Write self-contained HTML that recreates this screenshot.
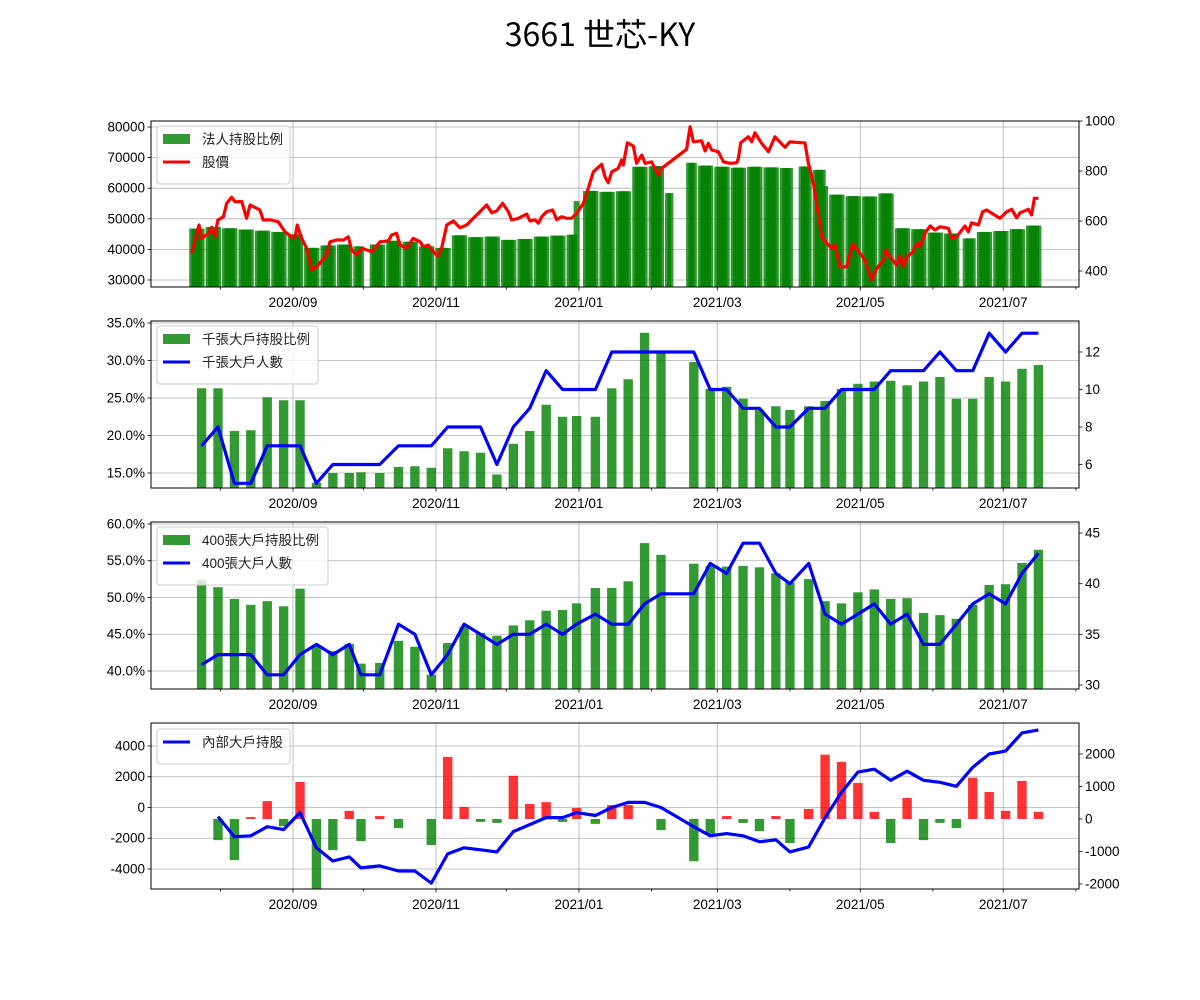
<!DOCTYPE html>
<html><head><meta charset="utf-8"><style>
html,body{margin:0;padding:0;background:#fff;}
svg{display:block;font-family:"Liberation Sans","Noto Sans CJK TC",sans-serif;}
</style></head><body>
<svg id="chart" width="1200" height="1000" viewBox="0 0 1200 1000" xmlns="http://www.w3.org/2000/svg">
<text x="600" y="46" text-anchor="middle" font-size="32" font-family="Noto Sans CJK TC, sans-serif" fill="#000">3661 世芯-KY</text>
</svg>
<script>
// ---------- DATA ----------
const weekDates = ["2020-07-24","2020-07-31","2020-08-07","2020-08-14","2020-08-21","2020-08-28","2020-09-04","2020-09-11","2020-09-18","2020-09-25","2020-09-30","2020-10-08","2020-10-16","2020-10-23","2020-10-30","2020-11-06","2020-11-13","2020-11-20","2020-11-27","2020-12-04","2020-12-11","2020-12-18","2020-12-25","2020-12-31","2021-01-08","2021-01-15","2021-01-22","2021-01-29","2021-02-05","2021-02-19","2021-02-26","2021-03-05","2021-03-12","2021-03-19","2021-03-26","2021-04-01","2021-04-09","2021-04-16","2021-04-23","2021-04-30","2021-05-07","2021-05-14","2021-05-21","2021-05-28","2021-06-04","2021-06-11","2021-06-18","2021-06-25","2021-07-02","2021-07-09","2021-07-16"];
const bigRatio = [26.3,26.3,20.6,20.7,25.1,24.7,24.7,13.7,15.0,15.0,15.1,15.0,15.8,15.9,15.7,18.3,17.9,17.7,14.8,18.9,20.6,24.1,22.5,22.6,22.5,26.3,27.5,33.7,31.2,29.8,26.2,26.5,24.9,23.4,23.9,23.4,23.9,24.6,26.2,26.9,27.2,27.3,26.7,27.2,27.8,24.9,24.9,27.8,27.2,28.9,29.4];
const bigCount = [7,8,5,5,7,7,7,5,6,6,6,6,7,7,7,8,8,8,6,8,9,11,10,10,10,12,12,12,12,12,10,10,9,9,8,8,9,9,10,10,10,11,11,11,12,11,11,13,12,13,13];
const midRatio = [52.4,51.4,49.8,49.0,49.5,48.8,51.2,43.5,42.7,43.7,41.0,41.1,44.1,43.3,39.5,43.8,46.0,45.2,44.8,46.2,46.9,48.2,48.3,49.2,51.3,51.3,52.2,57.4,55.8,54.6,54.3,54.2,54.3,54.1,53.3,52.0,52.5,49.5,49.2,50.7,51.1,49.8,49.9,47.9,47.6,47.1,49.0,51.7,51.8,54.7,56.5];
const midCount = [32,33,33,33,31,31,33,34,33,34,31,31,36,35,31,33,36,35,34,35,35,36,35,36,37,36,36,38,39,39,42,41,44,44,41,40,42,37,36,37,38,36,37,34,34,36,38,39,38,41,43];
const insiderDiff = [0,-650,-1265,60,550,-220,1140,-2300,-960,250,-680,90,-280,0,-800,1910,370,-90,-120,1330,460,520,-90,340,-150,430,430,0,-340,-1300,-500,90,-120,-370,90,-740,310,1980,1760,1110,220,-740,650,-650,-120,-280,1270,830,250,1170,220];
const insiderHold = [null,-590,-1900,-1840,-1250,-1440,-330,-2620,-3480,-3210,-3930,-3800,-4130,-4130,-4920,-3020,-2620,-2750,-2890,-1570,-1110,-660,-660,-330,-520,0,330,330,0,-1250,-1840,-1700,-1840,-2230,-2100,-2890,-2560,-660,980,2300,2490,1770,2360,1770,1640,1380,2620,3480,3670,4850,5050];
// institutional holding segments (daily bars)
const instStart = ["2020-07-20","2020-07-27","2020-08-03","2020-08-10","2020-08-17","2020-08-24","2020-08-31","2020-09-07","2020-09-14","2020-09-21","2020-09-28","2020-10-05","2020-10-12","2020-10-19","2020-10-26","2020-11-02","2020-11-09","2020-11-16","2020-11-23","2020-11-30","2020-12-07","2020-12-14","2020-12-21","2020-12-28","2020-12-31","2021-01-04","2021-01-11","2021-01-18","2021-01-25","2021-02-01","2021-02-08","2021-02-17","2021-02-22","2021-03-01","2021-03-08","2021-03-15","2021-03-22","2021-03-29","2021-04-06","2021-04-12","2021-04-16","2021-04-19","2021-04-26","2021-05-03","2021-05-10","2021-05-17","2021-05-24","2021-05-31","2021-06-07","2021-06-15","2021-06-21","2021-06-28","2021-07-05","2021-07-12"];
const instEnd = ["2020-07-24","2020-07-31","2020-08-07","2020-08-14","2020-08-21","2020-08-28","2020-09-04","2020-09-11","2020-09-18","2020-09-25","2020-09-30","2020-10-09","2020-10-16","2020-10-23","2020-10-30","2020-11-06","2020-11-13","2020-11-20","2020-11-27","2020-12-04","2020-12-11","2020-12-18","2020-12-25","2020-12-30","2020-12-31","2021-01-08","2021-01-15","2021-01-22","2021-01-29","2021-02-05","2021-02-09","2021-02-19","2021-02-26","2021-03-05","2021-03-12","2021-03-19","2021-03-26","2021-04-01","2021-04-09","2021-04-15","2021-04-16","2021-04-23","2021-04-30","2021-05-07","2021-05-14","2021-05-21","2021-05-28","2021-06-04","2021-06-11","2021-06-18","2021-06-25","2021-07-02","2021-07-09","2021-07-16"];
const instHold = [46800,47300,46900,46500,46100,45700,44900,40500,41300,41600,41000,41600,42800,42500,41000,40500,44600,44000,44200,43100,43400,44200,44500,44800,55800,59100,58800,59000,67000,67200,58400,68300,67400,67000,66700,67000,66800,66600,67100,66000,60700,57900,57400,57300,58300,46900,46600,45500,45200,43600,45700,46000,46600,47800];
const holidays = ["2020-10-01","2020-10-02","2021-01-01","2021-02-10","2021-02-11","2021-02-12","2021-02-15","2021-02-16","2021-04-02","2021-04-05","2021-06-14"];
// stock price: days since 2020-09-01 and price
const priceDay = [-43.2,-40.1,-39.0,-36.1,-34.7,-33.3,-32.1,-29.7,-28.3,-26.2,-24.7,-21.9,-19.8,-18.3,-14.1,-12.7,-9.8,-6.3,-3.4,-0.6,0.9,1.8,3.7,5.8,8.0,10.1,14.4,15.8,18.6,21.5,23.6,25.0,27.2,29.3,33.6,37.1,40.7,42.1,44.2,45.6,48.5,51.3,54.2,55.6,57.7,59.9,61.6,63.4,65.6,68.4,71.2,74.1,76.9,79.1,82.6,84.8,86.9,89.4,91.9,93.3,96.1,99.7,101.1,103.2,104.7,106.1,108.2,110.8,112.5,114.6,116.8,118.9,121.0,123.9,126.0,128.1,131.7,133.1,134.5,136.0,138.8,140.2,140.9,142.6,145.2,146.6,148.8,150.2,153.0,155.9,157.3,167.9,169.4,170.8,174.3,175.8,177.2,178.6,181.5,183.6,186.4,189.3,190.0,191.0,194.3,195.7,197.1,199.9,202.8,205.6,209.9,212.0,217.0,218.4,219.9,222.0,223.4,225.5,227.7,229.8,231.2,233.4,236.2,238.8,241.9,244.0,246.9,249.0,252.1,253.0,254.7,257.5,259.0,260.4,261.8,264.6,266.1,267.5,269.6,271.8,273.9,276.0,279.6,281.0,283.1,286.7,288.1,289.5,292.4,294.2,295.9,298.8,301.6,304.5,306.6,308.7,310.2,313.7,315.1,316.3,318.0];
const price = [471,584,531,551,575,537,604,617,671,695,677,678,611,664,644,604,605,597,557,537,535,584,531,491,404,417,464,517,524,524,537,484,464,491,477,517,521,544,551,504,491,531,517,497,504,477,461,491,584,600,573,584,611,631,664,633,640,671,637,604,611,628,600,605,591,617,637,644,605,617,611,611,631,671,731,797,827,777,753,797,811,844,824,913,900,831,864,831,837,784,811,887,977,917,921,880,911,884,877,837,831,833,851,913,937,917,953,911,877,937,895,917,913,913,831,751,671,537,511,491,504,417,417,508,471,444,364,411,444,484,457,424,460,417,457,477,511,497,551,580,564,577,571,531,537,580,557,593,584,637,644,627,611,637,647,613,633,647,624,691,691];
const xTickLabels = ["2020/09","2020/11","2021/01","2021/03","2021/05","2021/07"];
const xTickDates = ["2020-09-01","2020-11-01","2021-01-01","2021-03-01","2021-05-01","2021-07-01"];
const xMinorDates = ["2020-08-01","2020-10-01","2020-12-01","2021-02-01","2021-04-01","2021-06-01","2021-08-01"];

// ---------- SCALES ----------
const NS = "http://www.w3.org/2000/svg";
const svg = document.getElementById('chart');
const X0 = 293, PXD = 2.344, XL = 151, XR = 1079;
function dayOf(s){const p=s.split('-').map(Number);return (Date.UTC(p[0],p[1]-1,p[2])-Date.UTC(2020,8,1))/864e5;}
function xs(d){return X0 + d*PXD;}
function mk(tag, attrs, parent){const e=document.createElementNS(NS,tag);for(const k in attrs)e.setAttribute(k,attrs[k]);(parent||svg).appendChild(e);return e;}
const panels = [
 {top:121,bot:287,l:[27712,81961],r:[336,1000]},
 {top:321,bot:488,l:[13.0,35.27],r:[4.747,13.653]},
 {top:522,bot:689,l:[37.55,60.27],r:[29.6,46.09]},
 {top:723,bot:889,l:[-5301,5496],r:[-2154,2954]}
];
function yL(P,v){return P.bot-(v-P.l[0])/(P.l[1]-P.l[0])*(P.bot-P.top);}
function yR(P,v){return P.bot-(v-P.r[0])/(P.r[1]-P.r[0])*(P.bot-P.top);}
const FONT = 'Liberation Sans, Noto Sans CJK TC, sans-serif';

const defs = mk('defs',{});
panels.forEach((P,i)=>{
  const cp = mk('clipPath',{id:'clip'+i},defs);
  mk('rect',{x:XL,y:P.top,width:XR-XL,height:P.bot-P.top},cp);
});

function gridAndAxes(P, i, lTicks, lFmt, rTicks, rFmt, gridLayer, axisLayer){
  xTickDates.forEach(s=>{
    const x = xs(dayOf(s));
    const gl = mk('line',{x1:x,x2:x,y1:P.top,y2:P.bot,stroke:'#b0b0b0','stroke-width':0.8},gridLayer);
    
    
  });
  lTicks.forEach(v=>{
    const y = yL(P,v);
    const gl = mk('line',{x1:XL,x2:XR,y1:y,y2:y,stroke:'#b0b0b0','stroke-width':0.8},gridLayer);
    
    
    const tk = mk('line',{x1:XL-3.5,x2:XL,y1:y,y2:y,stroke:'#000','stroke-width':0.8},axisLayer);
    
    
    const t = mk('text',{x:XL-6,y:y+4.5,'text-anchor':'end','font-size':13.5,'font-family':FONT,fill:'#000'},axisLayer);
    t.textContent = lFmt(v);
    
    
  });
  rTicks.forEach(v=>{
    const y = yR(P,v);
    const tk = mk('line',{x1:XR,x2:XR+3.5,y1:y,y2:y,stroke:'#000','stroke-width':0.8},axisLayer);
    
    
    const t = mk('text',{x:XR+6,y:y+4.5,'text-anchor':'start','font-size':13.5,'font-family':FONT,fill:'#000'},axisLayer);
    t.textContent = rFmt(v);
    
    
  });
  xTickDates.forEach((s,k)=>{
    const x = xs(dayOf(s));
    const tk = mk('line',{x1:x,x2:x,y1:P.bot,y2:P.bot+3.5,stroke:'#000','stroke-width':0.8},axisLayer);
    
    
    const t = mk('text',{x:x,y:P.bot+20,'text-anchor':'middle','font-size':13.5,'font-family':FONT,fill:'#000'},axisLayer);
    t.textContent = xTickLabels[k];
    
    
  });
  xMinorDates.forEach(s=>{
    const x = xs(dayOf(s));
    const tk = mk('line',{x1:x,x2:x,y1:P.bot,y2:P.bot+2.5,stroke:'#000','stroke-width':0.8},axisLayer);
    
    
  });
  const fr = mk('rect',{x:XL,y:P.top,width:XR-XL,height:P.bot-P.top,fill:'none',stroke:'#000','stroke-width':1},axisLayer);
  
  
}

function legend(x,y,w,items){
  const g = mk('g',{});
  
  
  const h = 12 + items.length*23;
  mk('rect',{x:x,y:y,width:w,height:h,rx:3,fill:'#fff','fill-opacity':0.8,stroke:'#cccccc','stroke-width':1},g);
  items.forEach((it,k)=>{
    const cy = y+13+k*23;
    if(it.type==='bar'){
      const p = mk('rect',{x:x+6,y:cy-5,width:27,height:10,fill:it.color},g);
      
      
    } else {
      const p = mk('line',{x1:x+6,x2:x+33,y1:cy,y2:cy,stroke:it.color,'stroke-width':3},g);
      
      
    }
    const t = mk('text',{x:x+45,y:cy+5,'font-size':13.5,'font-family':'Liberation Sans, Noto Sans CJK TC, sans-serif',fill:'#222'},g);
    t.textContent = it.label;
    
    
  });
}

const GREEN = 'rgba(0,128,0,0.8)', RED = 'rgba(255,0,0,0.8)';
const BW = 4*PXD;

// ---------- PANEL 1 ----------
(function(){
  const P = panels[0];
  const gridL = mk('g',{});  
  const barsL = mk('g',{'clip-path':'url(#clip0)'});  
  const lineL = mk('g',{'clip-path':'url(#clip0)'});
  const axisL = mk('g',{});  
  const hol = new Set(holidays.map(dayOf));
  instStart.forEach((s,k)=>{
    const d0 = dayOf(s), d1 = dayOf(instEnd[k]);
    for(let d=d0; d<=d1; d++){
      const dow = ((d + 2) % 7 + 7) % 7; // 2020-09-01 is Tuesday
      if(dow===0||dow===6||hol.has(d)) continue;
      const x = xs(d), y = yL(P,instHold[k]);
      const r = mk('rect',{x:x-3,y:y,width:6,height:P.bot-y,fill:GREEN},barsL);
      
      
    }
  });
  const pts = priceDay.map((d,k)=>xs(d).toFixed(1)+','+yR(P,price[k]).toFixed(1)).join(' ');
  const pl = mk('polyline',{points:pts,fill:'none',stroke:'#ff0000','stroke-width':3.2,'stroke-linejoin':'round'},lineL);
  
  
  gridAndAxes(P,0,[30000,40000,50000,60000,70000,80000],v=>String(v),[400,600,800,1000],v=>String(v),gridL,axisL);
  legend(157,126,133,[{type:'bar',color:GREEN,label:'法人持股比例'},{type:'line',color:'#ff0000',label:'股價'}]);
})();

// ---------- PANELS 2 & 3 ----------
function ratioPanel(i, ratio, count, lTicks, rTicks, lw, labels){
  const P = panels[i];
  const gridL = mk('g',{});  
  const barsL = mk('g',{'clip-path':'url(#clip'+i+')'});  
  const lineL = mk('g',{'clip-path':'url(#clip'+i+')'});
  const axisL = mk('g',{});  
  weekDates.forEach((s,k)=>{
    const x = xs(dayOf(s)), y = yL(P,ratio[k]);
    const r = mk('rect',{x:x-BW/2,y:y,width:BW,height:P.bot-y,fill:GREEN},barsL);
    
    
  });
  const pts = weekDates.map((s,k)=>xs(dayOf(s)).toFixed(1)+','+yR(P,count[k]).toFixed(1)).join(' ');
  const pl = mk('polyline',{points:pts,fill:'none',stroke:'#0000ff','stroke-width':3.2,'stroke-linejoin':'round'},lineL);
  
  
  gridAndAxes(P,i,lTicks,v=>v.toFixed(1)+'%',rTicks,v=>String(v),gridL,axisL);
  legend(157,P.top+5,lw,[{type:'bar',color:GREEN,label:labels[0]},{type:'line',color:'#0000ff',label:labels[1]}]);
}
ratioPanel(1,bigRatio,bigCount,[15,20,25,30,35],[6,8,10,12],161,['千張大戶持股比例','千張大戶人數']);
ratioPanel(2,midRatio,midCount,[40,45,50,55,60],[30,35,40,45],171,['400張大戶持股比例','400張大戶人數']);

// ---------- PANEL 4 ----------
(function(){
  const P = panels[3];
  const gridL = mk('g',{});  
  const barsL = mk('g',{'clip-path':'url(#clip3)'});  
  const lineL = mk('g',{'clip-path':'url(#clip3)'});
  const axisL = mk('g',{});  
  weekDates.forEach((s,k)=>{
    const v = insiderDiff[k];
    if(!v) return;
    const x = xs(dayOf(s)), y0 = yR(P,0), y = yR(P,v);
    const r = mk('rect',{x:x-BW/2,y:Math.min(y,y0),width:BW,height:Math.abs(y-y0),fill:v>0?RED:GREEN},barsL);
    
    
  });
  const pts = [];
  weekDates.forEach((s,k)=>{ if(insiderHold[k]!==null) pts.push(xs(dayOf(s)).toFixed(1)+','+yL(P,insiderHold[k]).toFixed(1)); });
  const pl = mk('polyline',{points:pts.join(' '),fill:'none',stroke:'#0000ff','stroke-width':3.2,'stroke-linejoin':'round'},lineL);
  
  
  gridAndAxes(P,3,[-4000,-2000,0,2000,4000],v=>String(v),[-2000,-1000,0,1000,2000],v=>String(v),gridL,axisL);
  legend(157,729,133,[{type:'line',color:'#0000ff',label:'內部大戶持股'}]);
})();
</script>
</body></html>
